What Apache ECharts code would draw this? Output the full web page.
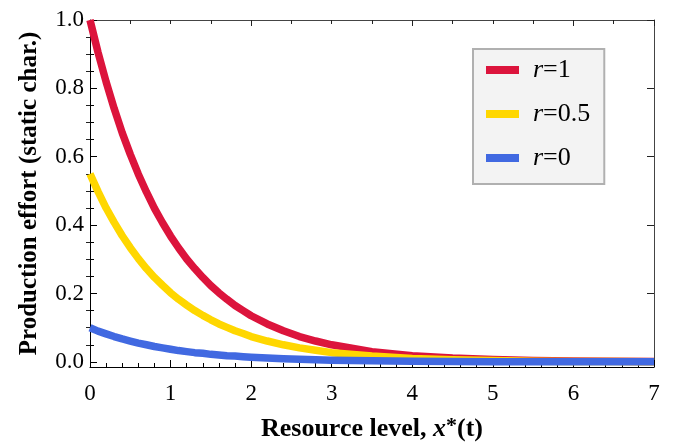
<!DOCTYPE html>
<html>
<head>
<meta charset="utf-8">
<script src="https://cdn.jsdelivr.net/npm/echarts@6/dist/echarts.min.js"></script>
<style>
html,body{margin:0;padding:0;background:#fff;}
#chart{width:673px;height:442px;}
</style>
</head>
<body>
<div id="chart"></div>
<script>
// Data
var xValues = [0, 0.1, 0.2, 0.3, 0.4, 0.5, 0.6, 0.7, 0.8, 0.9, 1.0, 1.1, 1.2, 1.3, 1.4, 1.5, 1.6, 1.7, 1.8, 1.9, 2.0,
               2.2, 2.4, 2.6, 2.8, 3.0, 3.5, 4, 4.5, 5, 5.5, 6, 6.5, 7];
var seriesNames = ['r=1', 'r=0.5', 'r=0'];
var valuesR1 = [1.000, 0.905, 0.819, 0.741, 0.670, 0.607, 0.549, 0.497, 0.449, 0.407, 0.368, 0.333, 0.301, 0.273, 0.247, 0.223, 0.202, 0.183, 0.165, 0.150, 0.135,
                0.111, 0.091, 0.074, 0.061, 0.050, 0.030, 0.018, 0.011, 0.007, 0.004, 0.0025, 0.0015, 0.001];
var valuesR05 = [0.550, 0.498, 0.450, 0.408, 0.369, 0.334, 0.302, 0.273, 0.247, 0.224, 0.202, 0.183, 0.166, 0.150, 0.136, 0.123, 0.111, 0.101, 0.091, 0.083, 0.074,
                 0.061, 0.050, 0.041, 0.034, 0.027, 0.017, 0.010, 0.006, 0.004, 0.002, 0.0014, 0.0008, 0.0005];
var valuesR0 = [0.100, 0.090, 0.082, 0.074, 0.067, 0.061, 0.055, 0.050, 0.045, 0.041, 0.037, 0.033, 0.030, 0.027, 0.025, 0.022, 0.020, 0.018, 0.017, 0.015, 0.0135,
                0.011, 0.009, 0.0074, 0.0061, 0.005, 0.003, 0.0018, 0.0011, 0.0007, 0.0004, 0.00025, 0.00015, 0.0001];
var yMajorTicks = [0, 0.2, 0.4, 0.6, 0.8, 1.0];
var yMinorTicks = [0.05, 0.1, 0.15, 0.25, 0.3, 0.35, 0.45, 0.5, 0.55, 0.65, 0.7, 0.75, 0.85, 0.9, 0.95];

var colors = ['#DC143C', '#FFD700', '#4169E1'];
var FONT = 'Liberation Serif';

function pairs(ys) {
  return xValues.map(function (x, i) { return [x, ys[i]]; });
}

var chart = echarts.init(document.getElementById('chart'), null, {renderer: 'canvas'});

var yCommon = {
  type: 'value', min: -0.015, max: 1.0, splitLine: {show: false}
};

var option = {
  animation: false,
  backgroundColor: '#ffffff',
  textStyle: {fontFamily: FONT},
  grid: {left: 90, right: 19, top: 20, bottom: 75, containLabel: false, outerBoundsMode: 'none'},
  legend: {
    left: 473, top: 49,
    orient: 'vertical',
    data: seriesNames,
    icon: 'rect',
    itemWidth: 33, itemHeight: 8,
    itemGap: 18,
    padding: [8, 14, 13, 13],
    backgroundColor: '#f3f3f3',
    borderColor: '#b0b0b0',
    borderWidth: 2,
    borderRadius: 0,
    formatter: function (name) { return name.replace('r', '{i|r}'); },
    textStyle: {
      fontFamily: FONT, fontSize: 26, color: '#000', padding: [0, 0, 0, 9],
      rich: {i: {fontFamily: FONT, fontSize: 26, fontStyle: 'italic', color: '#000'}}
    }
  },
  xAxis: [{
    type: 'value', position: 'bottom', min: 0, max: 7, interval: 1,
    axisLine: {show: true, onZero: false, lineStyle: {color: '#000', width: 1}},
    axisTick: {show: true, inside: true, length: 7, lineStyle: {color: '#000'}},
    minorTick: {show: true, splitNumber: 5, length: 4, lineStyle: {color: '#000'}},
    axisLabel: {fontFamily: FONT, fontSize: 23, color: '#000', margin: 15},
    splitLine: {show: false},
    name: 'Resource level, {i|x}{s|*}(t)',
    nameLocation: 'middle', nameGap: 48,
    nameTextStyle: {
      fontFamily: FONT, fontSize: 26, fontWeight: 'bold', color: '#000',
      rich: {
        i: {fontFamily: FONT, fontSize: 26, fontWeight: 'bold', fontStyle: 'italic', color: '#000'},
        s: {fontFamily: FONT, fontSize: 22, fontWeight: 'bold', color: '#000', verticalAlign: 'top', padding: [0, 0, 6, 0]}
      }
    }
  }, {
    type: 'value', position: 'top', min: 0, max: 7, interval: 2,
    axisLine: {show: true, onZero: false, lineStyle: {color: '#444', width: 1}},
    axisTick: {show: true, inside: true, length: 6, lineStyle: {color: '#222'}},
    minorTick: {show: true, splitNumber: 4, length: 4, lineStyle: {color: '#222'}},
    axisLabel: {show: false},
    splitLine: {show: false}
  }],
  yAxis: [
    Object.assign({}, yCommon, {
      position: 'left',
      axisLine: {show: true, onZero: false, lineStyle: {color: '#000', width: 1}},
      axisTick: {show: true, inside: true, length: 7, customValues: yMajorTicks, lineStyle: {color: '#000'}},
      axisLabel: {show: true, customValues: yMajorTicks, fontFamily: FONT, fontSize: 23, color: '#000', margin: 6,
        formatter: function (v) { return v.toFixed(1); }},
      name: 'Production effort (static char.)',
      nameLocation: 'middle', nameGap: 48,
      nameTextStyle: {fontFamily: FONT, fontSize: 25, fontWeight: 'bold', color: '#000'}
    }),
    Object.assign({}, yCommon, {
      position: 'left',
      axisLine: {show: false},
      axisTick: {show: true, inside: true, length: 4, customValues: yMinorTicks, lineStyle: {color: '#000'}},
      axisLabel: {show: false}
    }),
    Object.assign({}, yCommon, {
      position: 'right',
      axisLine: {show: true, onZero: false, lineStyle: {color: '#444', width: 1}},
      axisTick: {show: true, inside: true, length: 7, customValues: yMajorTicks, lineStyle: {color: '#222'}},
      axisLabel: {show: false}
    }),
    Object.assign({}, yCommon, {
      position: 'right',
      axisLine: {show: false},
      axisTick: {show: true, inside: true, length: 4, customValues: yMinorTicks, lineStyle: {color: '#222'}},
      axisLabel: {show: false}
    })
  ],
  series: [
    {name: seriesNames[0], type: 'line', data: pairs(valuesR1), smooth: false, showSymbol: false, symbol: 'none',
      lineStyle: {color: colors[0], width: 7.5, join: 'round'}, itemStyle: {color: colors[0]}, z: 2},
    {name: seriesNames[1], type: 'line', data: pairs(valuesR05), smooth: false, showSymbol: false, symbol: 'none',
      lineStyle: {color: colors[1], width: 7.5, join: 'round'}, itemStyle: {color: colors[1]}, z: 3},
    {name: seriesNames[2], type: 'line', data: pairs(valuesR0), smooth: false, showSymbol: false, symbol: 'none',
      lineStyle: {color: colors[2], width: 7.5, join: 'round'}, itemStyle: {color: colors[2]}, z: 4}
  ]
};

chart.setOption(option);
</script>
</body>
</html>
